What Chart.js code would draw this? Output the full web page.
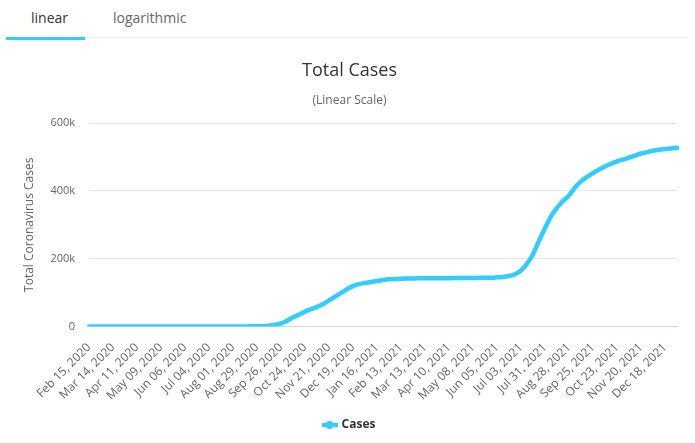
<!DOCTYPE html>
<html>
<head>
<meta charset="utf-8">
<script src="https://cdn.jsdelivr.net/npm/chart.js@4.4.1/dist/chart.umd.min.js"></script>
<style>
  html, body { margin: 0; padding: 0; background: #fff; }
  body { width: 695px; height: 443px; position: relative; overflow: hidden; font-family: "Open Sans", sans-serif; }
  .tab { position: absolute; top: 8px; font-size: 14px; line-height: 20px; }
  .tab.active { left: 31px; color: #333; }
  .tab.other { left: 113px; color: #666; }
  .tabline { position: absolute; left: 6px; right: 7px; top: 37px; height: 1px; background: #eee; }
  .tabbar { position: absolute; left: 6px; width: 79px; top: 37px; height: 3px; background: #33ccff; }
  .wrap { position: absolute; left: 0; top: 42px; width: 695px; height: 401px; }
</style>
</head>
<body>
<div class="tab active">linear</div>
<div class="tab other">logarithmic</div>
<div class="tabline"></div>
<div class="tabbar"></div>
<div class="wrap"><canvas id="casesChart"></canvas></div>
<script>
// weekly points, starting Feb 15, 2020
const startDate = new Date(2020, 1, 15);
const labelEvery = 4;
const yTicks = [0, 200000, 400000, 600000];

const cases = [
    0, 0, 0, 0, 0, 0, 8, 20, 41, 111,
    146, 151, 180, 182, 199, 224, 244, 261, 287, 293,
    303, 321, 336, 350, 353, 360, 375, 413, 700, 1100,
    2500, 5000, 9000, 17000, 27000, 35000, 44000, 51000, 58000, 66000,
    77000, 88000, 99000, 110000, 119000, 125000, 128000, 131000, 134000, 137000,
    139000, 140000, 141000, 141500, 141800, 142000, 142200, 142300, 142400, 142500,
    142600, 142700, 142800, 143000, 143200, 143400, 143600, 144000, 145000, 146000,
    149000, 154000, 165000, 185000, 213000, 253000, 290000, 325000, 350000, 370000,
    386000, 410000, 428000, 441000, 452000, 463000, 472000, 480000, 487000, 492000,
    498000, 504000, 510000, 514000, 518000, 521000, 523000, 525000, 527000
];

const months = ['Jan', 'Feb', 'Mar', 'Apr', 'May', 'Jun', 'Jul', 'Aug', 'Sep', 'Oct', 'Nov', 'Dec'];
const categories = cases.map((v, i) => {
    const d = new Date(startDate.getFullYear(), startDate.getMonth(), startDate.getDate() + i * 7);
    return months[d.getMonth()] + ' ' + String(d.getDate()).padStart(2, '0') + ', ' + d.getFullYear();
});

const lineColor = '#33ccff';

// legend symbol: short line with a dot
const legendIcon = document.createElement('canvas');
legendIcon.width = 16;
legendIcon.height = 10;
const ic = legendIcon.getContext('2d');
ic.strokeStyle = lineColor;
ic.lineWidth = 4;
ic.beginPath();
ic.moveTo(0, 5);
ic.lineTo(16, 5);
ic.stroke();
ic.fillStyle = lineColor;
ic.beginPath();
ic.arc(8, 5, 4, 0, Math.PI * 2);
ic.fill();

const ctx = document.getElementById('casesChart').getContext('2d');
new Chart(ctx, {
    type: 'line',
    data: {
        labels: categories,
        datasets: [{
            label: 'Cases',
            data: cases,
            borderColor: lineColor,
            backgroundColor: lineColor,
            borderWidth: 4.5,
            borderCapStyle: 'round',
            borderJoinStyle: 'round',
            cubicInterpolationMode: 'monotone',
            pointRadius: 0,
            fill: false
        }]
    },
    options: {
        responsive: true,
        maintainAspectRatio: false,
        animation: false,
        layout: { padding: { left: 22, right: 18, bottom: 2 } },
        plugins: {
            title: {
                display: true,
                text: 'Total Cases',
                color: '#333',
                font: { family: 'Open Sans', size: 18, weight: 'normal' },
                padding: { top: 18, bottom: 12 }
            },
            subtitle: {
                display: true,
                text: '(Linear Scale)',
                color: '#666',
                font: { family: 'Open Sans', size: 12 },
                padding: { top: 0, bottom: 15 }
            },
            legend: {
                position: 'bottom',
                labels: {
                    usePointStyle: true,
                    pointStyle: legendIcon,
                    color: '#333',
                    font: { family: 'Open Sans', size: 12, weight: 'bold' },
                    padding: 10
                }
            },
            tooltip: { enabled: false }
        },
        scales: {
            x: {
                grid: { display: false },
                border: { display: true, color: '#ccd6eb', width: 1 },
                ticks: {
                    autoSkip: false,
                    minRotation: 45,
                    maxRotation: 45,
                    color: '#666',
                    font: { family: 'Open Sans', size: 12 },
                    padding: 6,
                    callback: function (value, index) {
                        return index % labelEvery === 0 ? this.getLabelForValue(value) : null;
                    }
                }
            },
            y: {
                min: 0,
                max: 600000,
                afterBuildTicks: axis => { axis.ticks = yTicks.map(v => ({ value: v })); },
                grid: { color: '#e6e6e6', drawTicks: false },
                border: { display: false },
                ticks: {
                    color: '#666',
                    font: { family: 'Open Sans', size: 11 },
                    padding: 14,
                    callback: v => v === 0 ? '0' : (v / 1000) + 'k'
                },
                title: {
                    display: true,
                    text: 'Total Coronavirus Cases',
                    color: '#666',
                    font: { family: 'Open Sans', size: 12 },
                    padding: { top: 0, bottom: 0 }
                }
            }
        }
    }
});
</script>
</body>
</html>
